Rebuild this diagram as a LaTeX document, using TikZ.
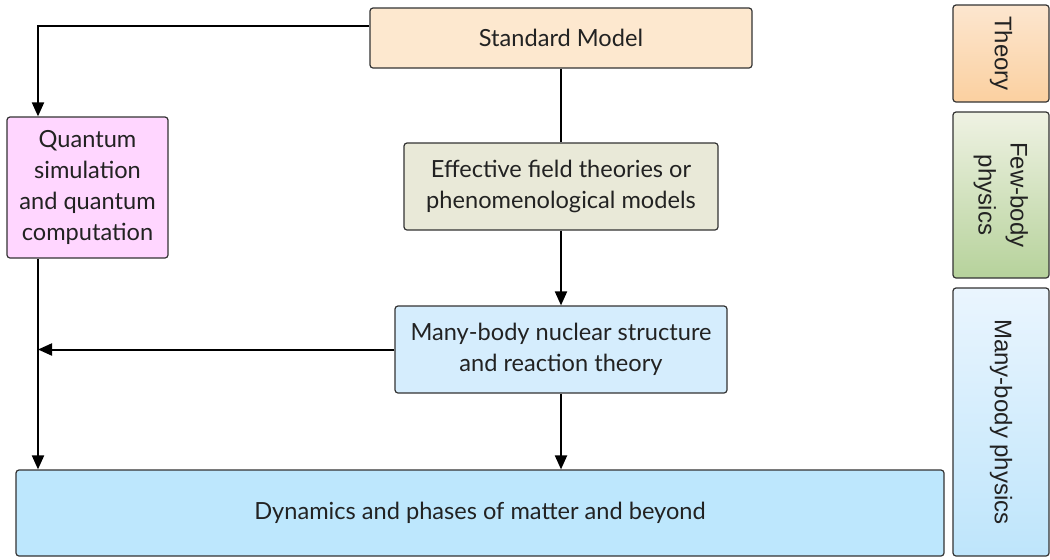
\documentclass[tikz,border=0pt]{standalone}
\usepackage{fontspec}
\setmainfont{Lato}
\newfontfamily\sidefont{Liberation Sans}
\usetikzlibrary{arrows.meta}

\definecolor{smfill}{HTML}{FDE8CF}
\definecolor{qfill}{HTML}{FFD6FF}
\definecolor{efill}{HTML}{E9E9D8}
\definecolor{mfill}{HTML}{D5EDFD}
\definecolor{dfill}{HTML}{BDE7FD}
\definecolor{edge}{HTML}{333333}
\definecolor{ink}{HTML}{222222}
\definecolor{thtop}{HTML}{FCE6CF}
\definecolor{thbot}{HTML}{FBD0A0}
\definecolor{fbtop}{HTML}{EFF2E3}
\definecolor{fbbot}{HTML}{B6D29B}
\definecolor{mbtop}{HTML}{EAF5FE}
\definecolor{mbbot}{HTML}{BEE5FB}

\tikzset{
  box/.style={draw=edge, line width=0.6pt, rounded corners=1.5pt, align=center,
    text=ink, font=\fontsize{11.8}{15.5}\selectfont, inner sep=0pt},
  side/.style={draw=edge, line width=0.6pt, rounded corners=1.5pt, align=center,
    text=ink, font=\sidefont\fontsize{12}{16}\selectfont, inner sep=0pt,
    minimum width=48pt},
  arr/.style={line width=1pt, -{Triangle[width=6pt,length=7pt]}},
  link/.style={line width=1pt}
}

\begin{document}
\begin{tikzpicture}[x=0.5pt,y=-0.5pt]
\useasboundingbox (0,0) rectangle (1050,559);

% main boxes
\node[box, fill=smfill, minimum width=191pt, minimum height=30pt] (sm) at (561,38) {Standard Model};
\node[box, fill=qfill, minimum width=80.5pt, minimum height=70.5pt] (qsim) at (87.5,187.5)
  {Quantum\\simulation\\and quantum\\computation};
\node[box, fill=efill, minimum width=157pt, minimum height=43.5pt] (eft) at (561,186.5)
  {Effective field theories or\\phenomenological models};
\node[box, fill=mfill, minimum width=166pt, minimum height=43.5pt] (mbt) at (561,349.5)
  {Many-body nuclear structure\\and reaction theory};
\node[box, fill=dfill, minimum width=464pt, minimum height=43pt] (dyn) at (480,513)
  {Dynamics and phases of matter and beyond};

% side labels
\node[side, top color=thtop, bottom color=thbot, minimum height=48.5pt] (theory) at (1001,53.5)
  {\rotatebox{-90}{Theory}};
\node[side, top color=fbtop, bottom color=fbbot, minimum height=83pt] (fewbody) at (1001,195)
  {\rotatebox{-90}{\begin{tabular}{@{}c@{}}Few-body\\physics\end{tabular}}};
\node[side, top color=mbtop, bottom color=mbbot, minimum height=134pt] (manybody) at (1001,422)
  {\rotatebox{-90}{Many-body physics}};

\coordinate (lane) at (38,0);

% connectors
\draw[arr] ([yshift=6pt]sm.west) -| (lane |- qsim.north);
\draw[link] (sm.south) -- (eft.north);
\draw[arr] (eft.south) -- (mbt.north);
\draw[arr] (mbt.west) -- (lane |- mbt.west);
\draw[arr] (lane |- qsim.south) -- (lane |- dyn.north);
\draw[arr] (mbt.south) -- (mbt.south |- dyn.north);
\end{tikzpicture}
\end{document}
